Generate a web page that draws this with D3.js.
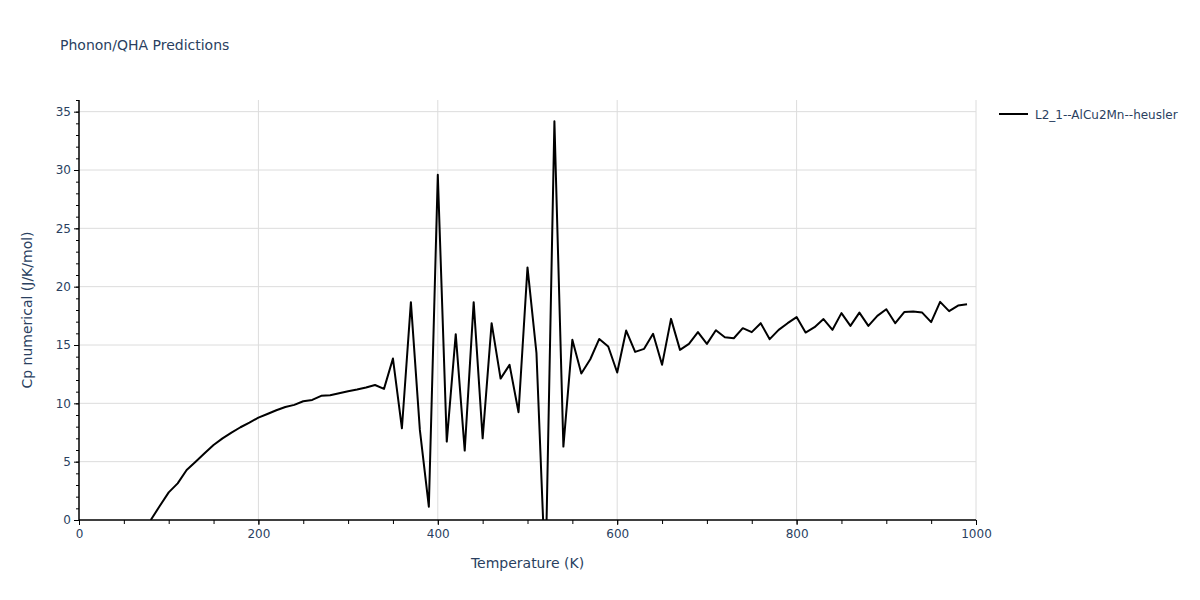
<!DOCTYPE html>
<html>
<head>
<meta charset="utf-8">
<script src="https://cdn.jsdelivr.net/npm/d3@7"></script>
<style>
  body { margin: 0; background: #fff; }
  svg { display: block; font-family: "DejaVu Sans", verdana, arial, sans-serif; }
</style>
</head>
<body>
<svg id="chart" width="1200" height="600"></svg>
<script>
const temperatures = [80, 90, 100, 110, 120, 130, 140, 150, 160, 170, 180, 190, 200, 210, 220, 230, 240, 250, 260, 270, 280, 290, 300, 310, 320, 330, 340, 350, 360, 370, 380, 390, 400, 410, 420, 430, 440, 450, 460, 470, 480, 490, 500, 510, 520, 530, 540, 550, 560, 570, 580, 590, 600, 610, 620, 630, 640, 650, 660, 670, 680, 690, 700, 710, 720, 730, 740, 750, 760, 770, 780, 790, 800, 810, 820, 830, 840, 850, 860, 870, 880, 890, 900, 910, 920, 930, 940, 950, 960, 970, 980, 990];
const cpValues = [0.0, 1.2, 2.37, 3.14, 4.29, 5.0, 5.72, 6.43, 7.0, 7.49, 7.95, 8.35, 8.78, 9.09, 9.41, 9.69, 9.87, 10.18, 10.29, 10.64, 10.7, 10.87, 11.04, 11.18, 11.35, 11.57, 11.24, 13.84, 7.86, 18.67, 7.72, 1.14, 29.6, 6.72, 15.93, 5.95, 18.67, 7.0, 16.87, 12.12, 13.3, 9.24, 21.65, 14.3, -5.0, 34.17, 6.29, 15.44, 12.56, 13.78, 15.52, 14.87, 12.64, 16.24, 14.41, 14.67, 15.96, 13.3, 17.24, 14.58, 15.1, 16.1, 15.1, 16.27, 15.67, 15.58, 16.44, 16.1, 16.87, 15.5, 16.3, 16.87, 17.39, 16.07, 16.53, 17.22, 16.3, 17.73, 16.64, 17.78, 16.64, 17.5, 18.07, 16.87, 17.82, 17.87, 17.78, 16.96, 18.7, 17.9, 18.38, 18.5];
const seriesName = "L2_1--AlCu2Mn--heusler";
const xMajorTicks = [0, 200, 400, 600, 800, 1000];
const xMinorTicks = [0, 50, 100, 150, 200, 250, 300, 350, 400, 450, 500, 550, 600, 650, 700, 750, 800, 850, 900, 950, 1000];
const yMajorTicks = [0, 5, 10, 15, 20, 25, 30, 35];
const yMinorTicks = [0, 1, 2, 3, 4, 5, 6, 7, 8, 9, 10, 11, 12, 13, 14, 15, 16, 17, 18, 19, 20, 21, 22, 23, 24, 25, 26, 27, 28, 29, 30, 31, 32, 33, 34, 35, 36];

const svg = d3.select("#chart");
const L = 79, R = 976, T = 100, B = 520;
const textColor = "#2a3f5f";
const fontFam = '"DejaVu Sans", verdana, arial, sans-serif';
const x = d3.scaleLinear().domain([0, 1000]).range([L, R]);
const y = d3.scaleLinear().domain([0, 36]).range([B, T]);

// gridlines
const grid = svg.append("g");
grid.selectAll("line.gx").data(xMajorTicks.filter(d => d > 0)).join("line")
  .attr("x1", d => x(d)).attr("x2", d => x(d)).attr("y1", T).attr("y2", B)
  .attr("stroke", "#dcdcdc").attr("stroke-width", 1);
grid.selectAll("line.gy").data(yMajorTicks.filter(d => d > 0)).join("line")
  .attr("x1", L).attr("x2", R).attr("y1", d => y(d)).attr("y2", d => y(d))
  .attr("stroke", "#dcdcdc").attr("stroke-width", 1);

// clip
svg.append("clipPath").attr("id", "clip").append("rect")
  .attr("x", L).attr("y", T).attr("width", R - L).attr("height", B - T);

// line
const pts = temperatures.map((t, i) => [t, cpValues[i]]);
svg.append("path")
  .datum(pts)
  .attr("clip-path", "url(#clip)")
  .attr("fill", "none")
  .attr("stroke", "#000")
  .attr("stroke-width", 2)
  .attr("stroke-linejoin", "round")
  .attr("d", d3.line().x(d => x(d[0])).y(d => y(d[1])));

// axes
const xMinor = svg.append("g").attr("transform", `translate(0,${B})`)
  .call(d3.axisBottom(x).tickValues(xMinorTicks).tickSize(4).tickFormat(""));
const xMajor = svg.append("g").attr("transform", `translate(0,${B})`)
  .call(d3.axisBottom(x).tickValues(xMajorTicks).tickSize(5).tickPadding(4).tickFormat(d3.format("d")));
const yMinor = svg.append("g").attr("transform", `translate(${L},0)`)
  .call(d3.axisLeft(y).tickValues(yMinorTicks).tickSize(3).tickFormat(""));
const yMajor = svg.append("g").attr("transform", `translate(${L},0)`)
  .call(d3.axisLeft(y).tickValues(yMajorTicks).tickSize(5).tickPadding(3).tickFormat(d3.format("d")));

[xMinor, xMajor, yMinor, yMajor].forEach(g => {
  g.select(".domain").attr("stroke", "#000").attr("stroke-width", 1);
  g.selectAll(".tick line").attr("stroke", "#000");
  g.selectAll(".tick text").attr("fill", textColor).style("font-size", "12px")
    .style("font-family", fontFam);
});
yMajor.select(".domain").attr("d", `M0,${B}V${T}`);
yMinor.select(".domain").attr("d", `M0,${B}V${T}`);
xMajor.select(".domain").attr("d", `M${L},0H${R}`);
xMinor.select(".domain").attr("d", `M${L},0H${R}`);

// title
svg.append("text").attr("x", 60).attr("y", 50)
  .attr("fill", textColor).style("font-size", "14px").style("font-family", fontFam)
  .text("Phonon/QHA Predictions");

// axis titles
svg.append("text").attr("x", (L + R) / 2).attr("y", 568)
  .attr("text-anchor", "middle").attr("fill", textColor)
  .style("font-size", "14px").style("font-family", fontFam)
  .text("Temperature (K)");
svg.append("text")
  .attr("transform", `translate(32,${(T + B) / 2}) rotate(-90)`)
  .attr("text-anchor", "middle").attr("fill", textColor)
  .style("font-size", "14px").style("font-family", fontFam)
  .text("Cp numerical (J/K/mol)");

// legend
const lg = svg.append("g");
lg.append("line").attr("x1", 999).attr("x2", 1028).attr("y1", 114).attr("y2", 114)
  .attr("stroke", "#000").attr("stroke-width", 2);
lg.append("text").attr("x", 1035).attr("y", 118.5)
  .attr("fill", textColor).style("font-size", "12px").style("font-family", fontFam)
  .text(seriesName);
</script>
</body>
</html>
